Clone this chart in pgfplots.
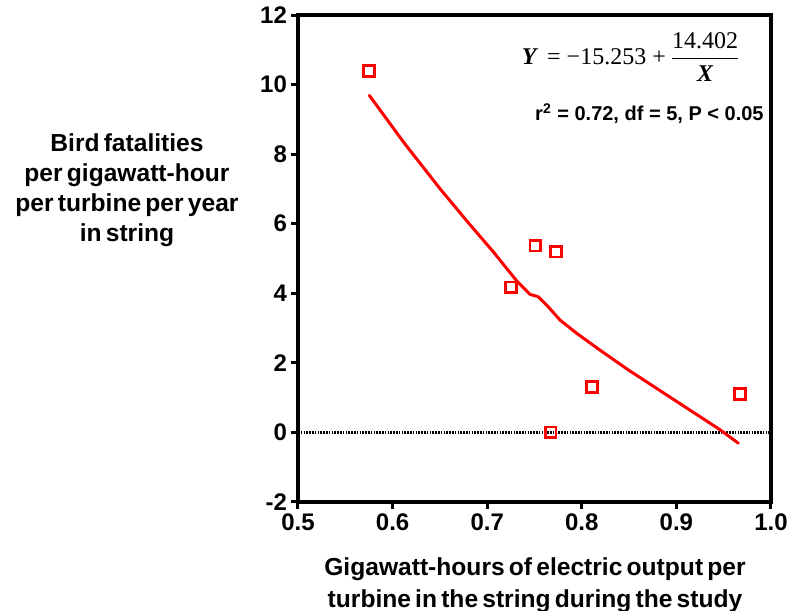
\documentclass[border=0pt]{standalone}
\usepackage{pgfplots}
\pgfplotsset{compat=1.18}
\usepackage{fontspec}
\setmainfont{Liberation Sans}
\newfontfamily\serif{Liberation Serif}
\newcommand\tight{\spaceskip=0.17em\relax}
\begin{document}
\begin{tikzpicture}
\begin{axis}[
  scale only axis, width=236.5pt, height=243.5pt, at={(0,0)}, anchor=south west,
  xmin=0.5, xmax=1.0, ymin=-2, ymax=12,
  xtick={0.5,0.6,0.7,0.8,0.9,1.0},
  xticklabels={0.5,0.6,0.7,0.8,0.9,1.0},
  ytick={-2,0,2,4,6,8,10,12},
  yticklabels={-2,0,2,4,6,8,10,12},
  ticklabel style={font=\fontsize{12}{14}\selectfont\bfseries},
  tick align=outside, major tick length=3.5pt,
  xtick pos=lower, ytick pos=left,
  axis line style={line width=1.8pt},
  every tick/.style={black, line width=1.5pt},
  x tick label style={yshift=1pt},
  y tick label style={xshift=1.5pt},
]
\addplot[black, dash pattern=on 0.8pt off 0.6pt, line width=1.1pt] coordinates {(0.5,0) (1.0,0)};
\addplot[red, line width=1.5pt, line join=round, line cap=round] coordinates {
  (0.5754,9.69) (0.612,8.33) (0.650,7.01) (0.680,6.03) (0.7065,5.19) (0.732,4.33) (0.7452,3.97) (0.754,3.90)
  (0.7629,3.66) (0.777,3.23) (0.7946,2.85) (0.819,2.37) (0.849,1.80) (0.946,0.08) (0.9655,-0.31)
};
\addplot[only marks, red, mark=square, mark size=2.7pt, mark options={line width=1.4pt}] coordinates {
  (0.575,10.39) (0.725,4.17) (0.751,5.37) (0.773,5.20) (0.767,0.0) (0.811,1.30) (0.967,1.11)
};
\end{axis}
\node[anchor=east, inner sep=0pt] at (221.5pt,222.5pt)
  {\fontsize{12}{14}\selectfont{\serif\bfseries\itshape Y}\ \,{\serif = \textminus15.253 +}\,$\displaystyle\frac{\hbox{\fontsize{12}{14}\selectfont\serif 14.402}}{\hbox{\fontsize{12}{14}\selectfont\serif\bfseries\itshape X}}$};
\node[anchor=east, inner sep=0pt, font=\fontsize{10}{12}\selectfont\bfseries] at (233pt,194pt)
  {r\textsuperscript{2} = 0.72, df = 5, P < 0.05};
\node[align=center, inner sep=0pt, font=\fontsize{12.3}{15}\selectfont\bfseries\tight] at (-85.5pt,156pt)
  {Bird fatalities\\per gigawatt-hour\\per turbine per year\\in string};
\node[align=center, inner sep=0pt, font=\fontsize{12.3}{16}\selectfont\bfseries\tight] at (118.5pt,-41.5pt)
  {Gigawatt-hours of electric output per\\turbine in the string during the study};
\pgfresetboundingbox
\path[use as bounding box] (-149pt,-54.5pt) rectangle (245.5pt,251pt);
\end{tikzpicture}
\end{document}
